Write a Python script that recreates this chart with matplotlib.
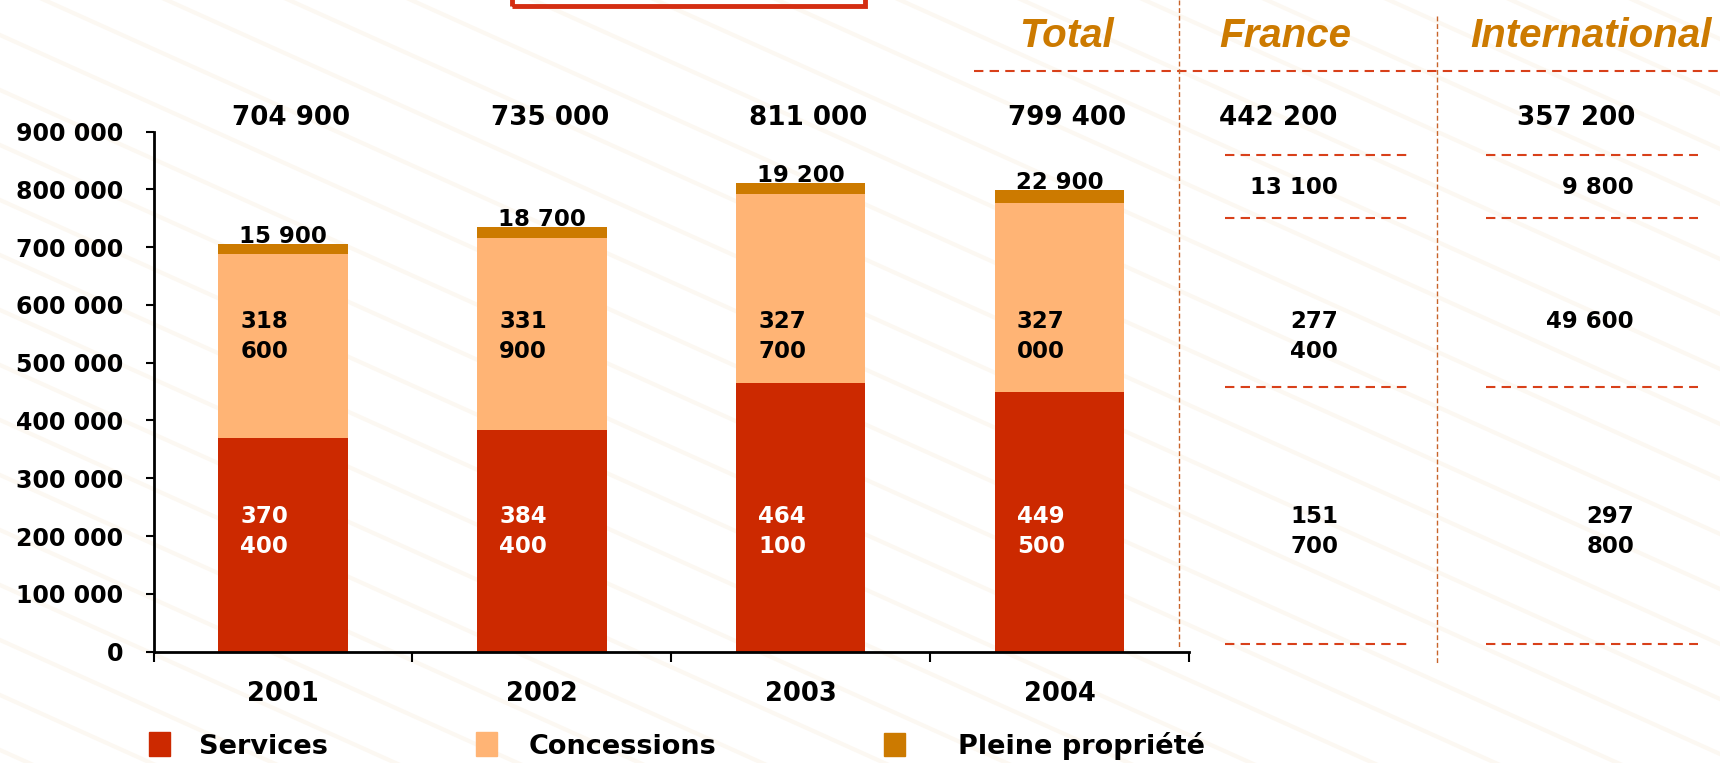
import matplotlib.pyplot as plt
import matplotlib.transforms as mtransforms
from matplotlib.patches import Patch, Rectangle
from matplotlib.lines import Line2D
import numpy as np

years = ['2001', '2002', '2003', '2004']
services = [370400, 384400, 464100, 449500]
concessions = [318600, 331900, 327700, 327000]
pleine = [15900, 18700, 19200, 22900]

# 2004 split France / International (services, concessions, pleine propriete)
france = [151700, 277400, 13100]
international = [297800, 49600, 9800]

c_services = '#CC2900'
c_conc = '#FFB475'
c_pleine = '#CC7A00'
c_dash = '#D8401A'
c_vdash = '#C8642A'

W, H = 1720, 763


def fx(px):
    return px / W


def fy(py):
    return 1 - py / H


def fmt(v):
    return f'{v:,}'.replace(',', ' ')


def fmt2(v):
    # long numbers wrap onto two lines
    s = fmt(v)
    return s.replace(' ', '\n') if v >= 100000 else s


fig = plt.figure(figsize=(17.2, 7.63), dpi=100)

# faint diagonal texture behind everything
bg = fig.add_axes([0, 0, 1, 1], zorder=-5)
bg.set_xlim(0, W)
bg.set_ylim(H, 0)
bg.axis('off')
for c in np.arange(-900, 2400, 55):
    xs = np.array([0, W])
    bg.plot(xs, c + 0.45 * xs, color='#FCF8F2', lw=3)

ax = fig.add_axes([fx(153.6), fy(651.6), fx(1189) - fx(153.6), fy(131.6) - fy(651.6)])
ax.patch.set_alpha(0)

x = np.arange(len(years))
bottom2 = np.array(services) + np.array(concessions)
totals = bottom2 + np.array(pleine)
ax.bar(x, services, 0.5, color=c_services, zorder=2)
ax.bar(x, concessions, 0.5, bottom=services, color=c_conc, zorder=2)
ax.bar(x, pleine, 0.5, bottom=bottom2, color=c_pleine, zorder=2)

ax.set_xlim(-0.5, 3.5)
ax.set_ylim(0, 900000)
ax.set_yticks(np.arange(0, 900001, 100000))
ax.set_yticklabels([fmt(v) for v in np.arange(0, 900001, 100000)],
                   fontsize=17, fontweight='bold')
ax.set_xticks(x)
ax.set_xticklabels(years, fontsize=18.5, fontweight='bold')
ax.set_xticks(np.arange(-0.5, 3.6, 1), minor=True)
ax.tick_params(axis='x', which='major', length=0, pad=21)
ax.tick_params(axis='x', which='minor', length=7, width=1.5, direction='out')
ax.tick_params(axis='y', length=6, width=1.5, direction='out', pad=16)
for s in ['top', 'right']:
    ax.spines[s].set_visible(False)
for s in ['left', 'bottom']:
    ax.spines[s].set_linewidth(2)

bold = dict(fontweight='bold', color='black')
lab = dict(fontsize=16.5, linespacing=1.4, zorder=3)
for i in range(len(years)):
    ax.text(i - 0.165, 208000, fmt2(services[i]), color='white',
            fontweight='bold', ha='left', va='center', **lab)
    ax.text(i - 0.165, 545000, fmt2(concessions[i]), ha='left',
            va='center', **lab, **bold)
    ax.annotate(fmt(pleine[i]), (i, totals[i]), xytext=(0, 1),
                textcoords='offset pixels', ha='center', va='baseline',
                fontsize=16.5, zorder=3, **bold)
    ax.text(i + 0.03, 911000, fmt(totals[i]), ha='center', va='baseline',
            fontsize=18.8, clip_on=False, **bold)

# France / International table on the right
tr = mtransforms.blended_transform_factory(fig.transFigure, ax.transData)
ax.text(fx(1278), 911000, fmt(sum(france)), transform=tr, ha='center',
        va='baseline', fontsize=18.8, clip_on=False, **bold)
ax.text(fx(1576), 911000, fmt(sum(international)), transform=tr, ha='center',
        va='baseline', fontsize=18.8, clip_on=False, **bold)
row_y = [208000, 545000]
for col, xr in [(france, 1338), (international, 1634)]:
    for v, yv in zip(col[:2], row_y):
        if v < 100000:
            yv = 572000
        ax.text(fx(xr), yv, fmt2(v), transform=tr, ha='right', va='center',
                clip_on=False, **lab, **bold)
    ax.text(fx(xr), 792000, fmt(col[2]), transform=tr, ha='right',
            va='baseline', fontsize=16.5, clip_on=False, **bold)

hdr = dict(family='Liberation Sans', fontsize=29, fontweight='bold',
           style='italic', color=c_pleine, ha='center', va='baseline')
fig.text(fx(1066), fy(47), 'Total', **hdr)
fig.text(fx(1285), fy(47), 'France', **hdr)
fig.text(fx(1591), fy(47), 'International', **hdr)


def hline(x0, x1, y):
    fig.add_artist(Line2D([fx(x0), fx(x1)], [fy(y), fy(y)], color=c_dash,
                          lw=1.5, dashes=(4.5, 3)))


def vline(xp, y0, y1):
    fig.add_artist(Line2D([fx(xp), fx(xp)], [fy(y0), fy(y1)], color=c_vdash,
                          lw=1, dashes=(3.5, 2)))


hline(974, 1720, 71)
for yp in [155, 218, 387, 644]:
    hline(1225, 1410, yp)
    hline(1486, 1698, yp)
vline(1179, 0, 647)
vline(1437, 16, 663)

# title frame at the top edge
fig.add_artist(Rectangle((fx(512), fy(6)), fx(865) - fx(512), 0.2,
                         fill=False, edgecolor='#D42E12', lw=3.5,
                         transform=fig.transFigure, clip_on=False))

# legend entries
leg_items = [('Services', c_services, 149, 1.05),
             ('Concessions', c_conc, 476, 1.15),
             ('Pleine propriété', c_pleine, 884, 1.95)]
for label, col, xp, pad in leg_items:
    fig.legend(handles=[Patch(color=col, label=label)], loc='center left',
               bbox_to_anchor=(fx(xp), fy(746)), frameon=False,
               prop=dict(size=19.5, weight='bold'), handlelength=0.78,
               handleheight=0.96, handletextpad=pad, borderpad=0,
               borderaxespad=0)

fig.savefig('out.png', dpi=100)
